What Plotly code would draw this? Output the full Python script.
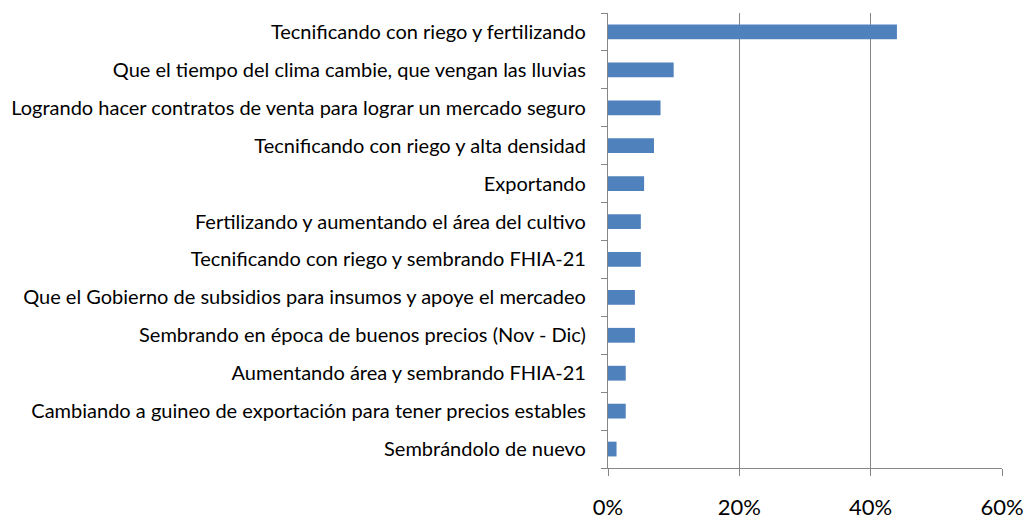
import plotly.graph_objects as go

categories = [
    "Tecnificando con riego y fertilizando",
    "Que el tiempo del clima cambie, que vengan las lluvias",
    "Logrando hacer contratos de venta para lograr un mercado seguro",
    "Tecnificando con riego y alta densidad",
    "Exportando",
    "Fertilizando y aumentando el área del cultivo",
    "Tecnificando con riego y sembrando FHIA-21",
    "Que el Gobierno de subsidios para insumos y apoye el mercadeo",
    "Sembrando en época de buenos precios (Nov - Dic)",
    "Aumentando área y sembrando FHIA-21",
    "Cambiando a guineo de exportación para tener precios estables",
    "Sembrándolo de nuevo",
]
values = [0.44, 0.10, 0.08, 0.07, 0.055, 0.05, 0.05, 0.041, 0.041, 0.027, 0.027, 0.013]
x_ticks = [0, 0.2, 0.4, 0.6]
x_tick_labels = ["0%", "20%", "40%", "60%"]

fig = go.Figure(go.Bar(
    x=values, y=categories, orientation="h",
    marker=dict(color="#4F81BD", line=dict(width=0)),
    width=0.39,
))

fig.update_layout(
    width=1026, height=521,
    margin=dict(l=608, r=24, t=13, b=53),
    paper_bgcolor="white", plot_bgcolor="white",
    font=dict(family="Lato", color="black"),
    showlegend=False,
    bargap=0.61,
)
fig.update_xaxes(
    range=[0, 0.6], tickvals=x_ticks, ticktext=x_tick_labels,
    showgrid=True, gridcolor="#868686", gridwidth=1.2,
    showline=True, linecolor="#868686", linewidth=1.2,
    ticks="outside", ticklen=7, tickcolor="#868686", tickwidth=1.2,
    tickfont=dict(size=22, family="Lato"), ticklabelstandoff=12,
    zeroline=False, automargin=False,
)
fig.update_yaxes(
    categoryorder="array", categoryarray=categories[::-1],
    showline=True, linecolor="#868686", linewidth=1.2,
    ticks="outside", ticklen=6, tickcolor="#868686", tickwidth=1.2,
    tickson="boundaries",
    tickfont=dict(size=20, family="Lato"), ticklabelstandoff=17,
    showgrid=False, automargin=False,
)

fig.write_html(
    "out.html",
    config={"displayModeBar": False},
    post_script="document.body.style.margin='0';document.body.style.overflow='hidden';",
)
